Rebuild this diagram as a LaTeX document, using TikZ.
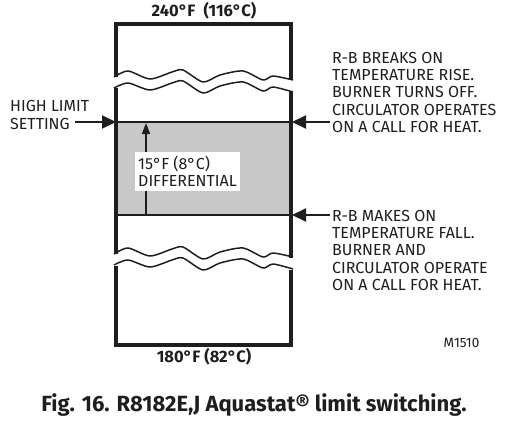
\documentclass[tikz,border=0pt]{standalone}
\usepackage{fontspec}
\setmainfont{Fira Sans}
\usetikzlibrary{arrows.meta}
\definecolor{bandgray}{RGB}{200,200,200}
\definecolor{ink}{RGB}{30,30,30}
\tikzset{
  wall/.style={line width=4pt, draw=ink},
  rule/.style={line width=2.2pt, draw=ink},
  wave/.style={line width=1.5pt, draw=ink, line join=round},
  pointer/.style={line width=2pt, draw=ink, -{Triangle[length=14pt,width=13pt]}},
  lbl/.style={font=\fontsize{16}{17.2}\selectfont, text=ink, align=left, inner sep=0pt},
  temp/.style={font=\bfseries\fontsize{16.5}{19}\selectfont, text=ink, inner sep=0pt},
}
\begin{document}
\begin{tikzpicture}[x=1pt,y=-1pt]
\useasboundingbox (0,0) rectangle (509,428);
% gray band
\fill[bandgray] (116,122) rectangle (291,215);
% top section
\draw[wall] (116,77) -- (116,24) -- (291,24) -- (291,80);
% middle section walls
\draw[wall] (116,88) -- (116,254);
\draw[wall] (291,92) -- (291,258);
% bottom section
\draw[wall] (116,266) -- (116,345) -- (291,345) -- (291,270);
% waves upper break
\draw[wave] plot[smooth,tension=0.45] coordinates {(114,77) (128,71) (150,79) (172,72) (183,70) (203,82) (220,75) (243,71) (263,80) (273,76) (293,80)};
\draw[wave] plot[smooth,tension=0.45] coordinates {(114,88) (128,83) (150,90) (172,83) (183,81) (203,93) (220,86) (243,82) (263,91) (273,87) (293,92)};
% waves lower break
\begin{scope}[yshift=-177pt]
\draw[wave] plot[smooth,tension=0.45] coordinates {(114,77) (128,71) (150,79) (172,72) (183,70) (203,82) (220,75) (243,71) (263,80) (273,76) (293,80)};
\draw[wave] plot[smooth,tension=0.45] coordinates {(114,88) (128,83) (150,90) (172,83) (183,81) (203,93) (220,86) (243,82) (263,91) (273,87) (293,92)};
\end{scope}
% horizontal rules
\draw[rule] (116,122) -- (291,122);
\draw[rule] (116,215) -- (291,215);
% differential arrow
\coordinate (dbot) at (146,215);
\coordinate (dtop) at (146,123);
\draw[line width=1.5pt, draw=ink, -{Triangle[length=11pt,width=8pt]}] (dbot) -- (dtop);
\node[lbl, fill=white, inner xsep=3pt, inner ysep=4pt, anchor=north west] (diff) at (135,152) {15°F (8°C)\\DIFFERENTIAL};
% temperatures
\node[temp] (t240) at (204,11) {240°F\hspace{0.5em}(116°C)};
\node[temp] (t180) at (204,357) {180°F\hspace{0.25em}(82°C)};
% high limit
\node[lbl, anchor=north west] (hl) at (10,100.5) {HIGH LIMIT\\SETTING};
\coordinate (hlpt) at (116,122);
\coordinate (hlst) at (75,122);
\draw[pointer] (hlst) -- (hlpt);
% right texts
\node[lbl, anchor=north west] (brk) at (332,52) {R-B BREAKS ON\\TEMPERATURE RISE.\\BURNER TURNS OFF.\\CIRCULATOR OPERATES\\ON A CALL FOR HEAT.};
\node[lbl, anchor=north west] (mk) at (332,210) {R-B MAKES ON\\TEMPERATURE FALL.\\BURNER AND\\CIRCULATOR OPERATE\\ON A CALL FOR HEAT.};
\coordinate (bpt) at (292,122);
\coordinate (bst) at (330,122);
\coordinate (mpt) at (292,215);
\coordinate (mst) at (330,215);
\draw[pointer] (bst) -- (bpt);
\draw[pointer] (mst) -- (mpt);
% code
\node[font=\fontsize{13.5}{15}\selectfont, text=ink, inner sep=0pt] (code) at (461.5,343) {M1510};
% caption
\node[font=\bfseries\fontsize{22}{24}\selectfont, text=ink, inner sep=0pt] (cap) at (254,405) {Fig. 16. R8182E,J Aquastat® limit switching.};
\end{tikzpicture}
\end{document}
